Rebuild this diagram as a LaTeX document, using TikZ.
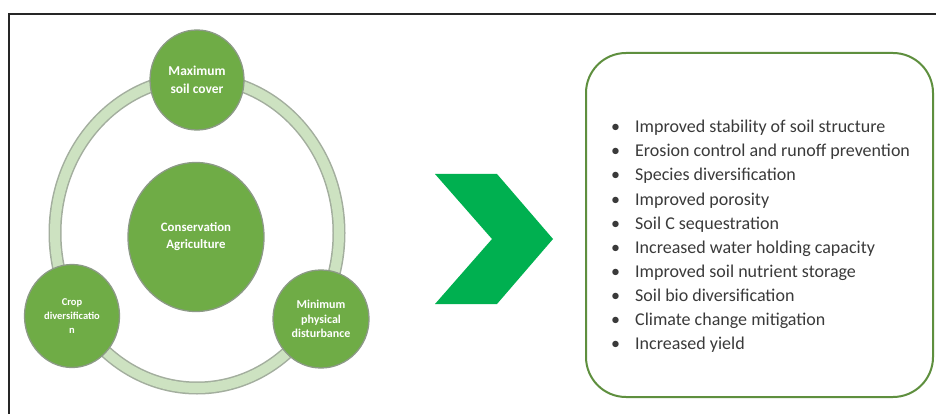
\documentclass[tikz,border=0pt]{standalone}
\usepackage{fontspec}
\setmainfont{Carlito}
\usetikzlibrary{shapes.geometric}
\definecolor{leaf}{HTML}{6FAC46}
\definecolor{leafedge}{HTML}{8C9A86}
\definecolor{ringfill}{HTML}{CDE2C1}
\definecolor{ringedge}{HTML}{A3AE9E}
\definecolor{arrowgreen}{HTML}{00B050}
\definecolor{boxedge}{HTML}{5E8F3E}
\definecolor{listtext}{HTML}{3A3A3A}

\begin{document}
\begin{tikzpicture}[x=1pt,y=-1pt,
  pillar/.style={ellipse, fill=leaf, draw=leafedge, line width=1.3pt,
    inner sep=0pt, text=white, align=center},
  toptext/.style={font=\bfseries\fontsize{13.5}{18.5}\selectfont},
  hubtext/.style={font=\bfseries\fontsize{12.8}{17}\selectfont},
  croptext/.style={font=\bfseries\fontsize{10.5}{14}\selectfont},
  tilltext/.style={font=\bfseries\fontsize{12}{14.5}\selectfont},
  listitem/.style={anchor=base west, inner sep=0pt, text=listtext,
    font=\fontsize{18}{24}\selectfont},
]
\useasboundingbox (0,0) rectangle (936,414);
\fill[white] (0,0) rectangle (936,414);

% outer frame
\draw[line width=2pt, black!85] (9,414) -- (9,14) -- (936,14);

% ring linking the three principles
\coordinate (hub) at (197,233);
\draw[ringedge, line width=13pt] (hub) ellipse [x radius=142, y radius=155];
\draw[ringfill, line width=10pt] (hub) ellipse [x radius=142, y radius=155];

% principles
\node[pillar, toptext, minimum width=94, minimum height=100] (cover) at (197,80)
  {Maximum\\soil cover};
\node[pillar, hubtext, minimum width=136, minimum height=149] (ca) at (196,237)
  {Conservation\\Agriculture};
\node[pillar, croptext, minimum width=95, minimum height=103] (crop) at (72,316)
  {Crop\\diversificatio\\n};
\node[pillar, tilltext, minimum width=96, minimum height=98] (tillage) at (321,319)
  {Minimum\\physical\\disturbance};

% chevron
\fill[arrowgreen] (435,174) -- (497,174) -- (553,239) -- (497,304)
  -- (435,304) -- (492,239) -- cycle;

% benefits box
\node[draw=boxedge, line width=2pt, rounded corners=40pt, anchor=north west,
  minimum width=347, minimum height=344, inner sep=0pt] (benefits) at (585,52) {};

\foreach \txt [count=\i from 0] in {
  Improved stability of soil structure,
  Erosion control and runoff prevention,
  Species diversification,
  Improved porosity,
  Soil C sequestration,
  Increased water holding capacity,
  Improved soil nutrient storage,
  Soil bio diversification,
  Climate change mitigation,
  Increased yield}
  \node[listitem] (item\i) at (611,133+24*\i) {\makebox[24pt][l]{•}\txt};
\end{tikzpicture}
\end{document}
